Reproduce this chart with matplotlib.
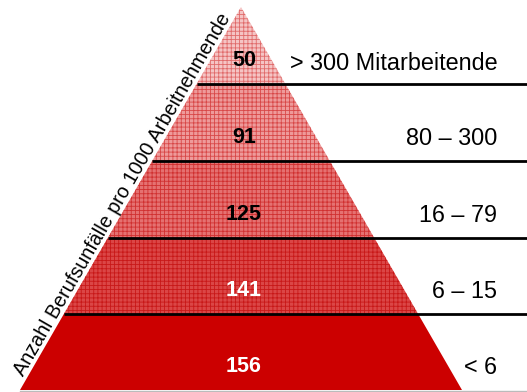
import numpy as np
import matplotlib
matplotlib.use('Agg')
import matplotlib.pyplot as plt
from matplotlib.patches import Polygon

plt.rcParams['font.family'] = ['Liberation Sans', 'DejaVu Sans']
plt.rcParams['hatch.linewidth'] = 0.6

# data, top band first
values = [50, 91, 125, 141, 156]
groups = ['> 300 Mitarbeitende', '80 \u2013 300', '16 \u2013 79', '6 \u2013 15', '< 6']
axis_title = 'Anzahl Berufsunfälle pro 1000 Arbeitnehmende'

fills = ['#f5c4c4', '#ee9a9a', '#e57171', '#db4646', '#cc0000']
hatch_cols = ['#e06a6a', '#d84848', '#d03030', '#c81818', None]
num_cols = ['black', 'black', 'black', 'white', 'white']

fig = plt.figure(figsize=(5.27, 3.92), dpi=100)
ax = fig.add_axes([0, 0, 1, 1])
ax.set_xlim(0, 527)
ax.set_ylim(392, 0)
ax.axis('off')

apex_x, apex_y = 241, 7
base_y, half_base = 390, 221
bounds = [apex_y, 84, 161, 238, 314, base_y]

def half_w(y):
    return half_base * (y - apex_y) / (base_y - apex_y)

for i in range(len(values)):
    y0, y1 = bounds[i], bounds[i + 1]
    pts = [(apex_x - half_w(y0), y0), (apex_x + half_w(y0), y0),
           (apex_x + half_w(y1), y1), (apex_x - half_w(y1), y1)]
    ax.add_patch(Polygon(pts, closed=True, facecolor=fills[i], edgecolor='none'))
    if hatch_cols[i] is not None:
        ax.add_patch(Polygon(pts, closed=True, facecolor='none', edgecolor=hatch_cols[i],
                             hatch='++++', linewidth=0))
    # labels sit in the lower part of each band
    ym = y1 - 24
    ax.text(244, ym, str(values[i]), ha='center', va='center', fontsize=15.5,
            fontweight='bold', color=num_cols[i])
    if i == 0:
        ax.text(498, ym + 3, groups[i], ha='right', va='center', fontsize=16.8)
    else:
        ax.text(497, ym + 1, groups[i], ha='right', va='center', fontsize=16.8)

# separator lines from left edge to right border
for y in bounds[1:-1]:
    ax.plot([apex_x - half_w(y), 527], [y, y], color='black', lw=2, solid_capstyle='butt')
ax.plot([20, 527], [base_y + 1, base_y + 1], color='#bbbbbb', lw=1)

ang = np.degrees(np.arctan2(base_y - apex_y, half_base))
ax.text(122, 195, axis_title, rotation=ang, rotation_mode='anchor',
        ha='center', va='center', fontsize=14.2)

plt.savefig('out.png', dpi=100)
